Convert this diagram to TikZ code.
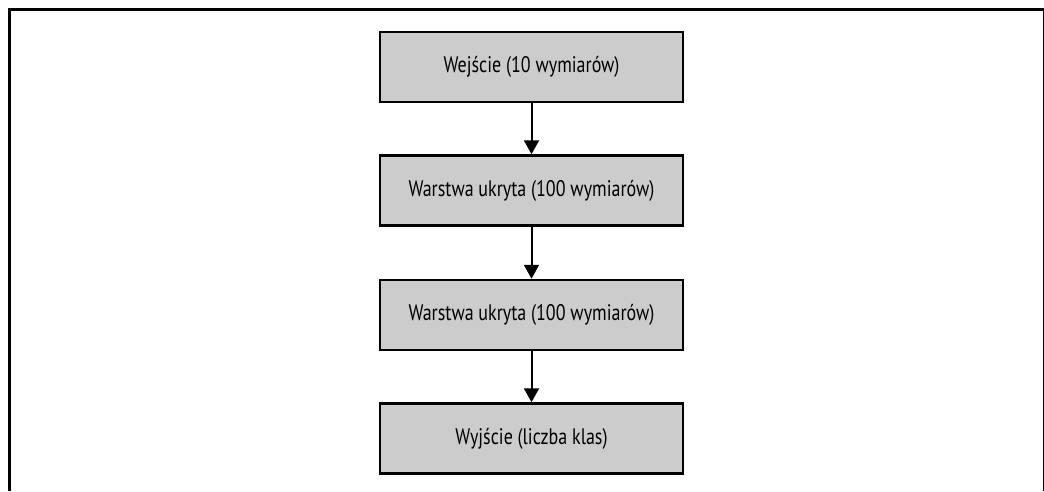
\documentclass[tikz,border=0pt]{standalone}
\usepackage{fontspec}
\setmainfont[FakeStretch=0.8]{PT Sans}
\usetikzlibrary{arrows.meta}
\definecolor{boxgray}{HTML}{CCCCCC}
\begin{document}
\begin{tikzpicture}[x=1pt, y=-1pt,
  layer/.style={rectangle, draw, line width=2.5pt, fill=boxgray, minimum width=303pt, minimum height=70pt, inner sep=0pt, font=\fontsize{22.5}{25}\selectfont, text=black},
  flow/.style={line width=2pt, -{Triangle[length=14pt, width=15pt]}}]
\useasboundingbox (0,0) rectangle (1044,491);
\draw[line width=3pt] (9,491) -- (9,9) -- (1044,9) -- (1044,491);
\node[layer] (lay0) at (531.5,67){Wejście (10 wymiarów)};
\node[layer] (lay1) at (531.5,190.5){Warstwa ukryta (100 wymiarów)};
\node[layer] (lay2) at (531.5,315){Warstwa ukryta (100 wymiarów)};
\node[layer] (lay3) at (531.5,438.5){Wyjście (liczba klas)};
\draw[flow](lay0) -- (lay1);
\draw[flow](lay1) -- (lay2);
\draw[flow](lay2) -- (lay3);
\end{tikzpicture}
\end{document}
